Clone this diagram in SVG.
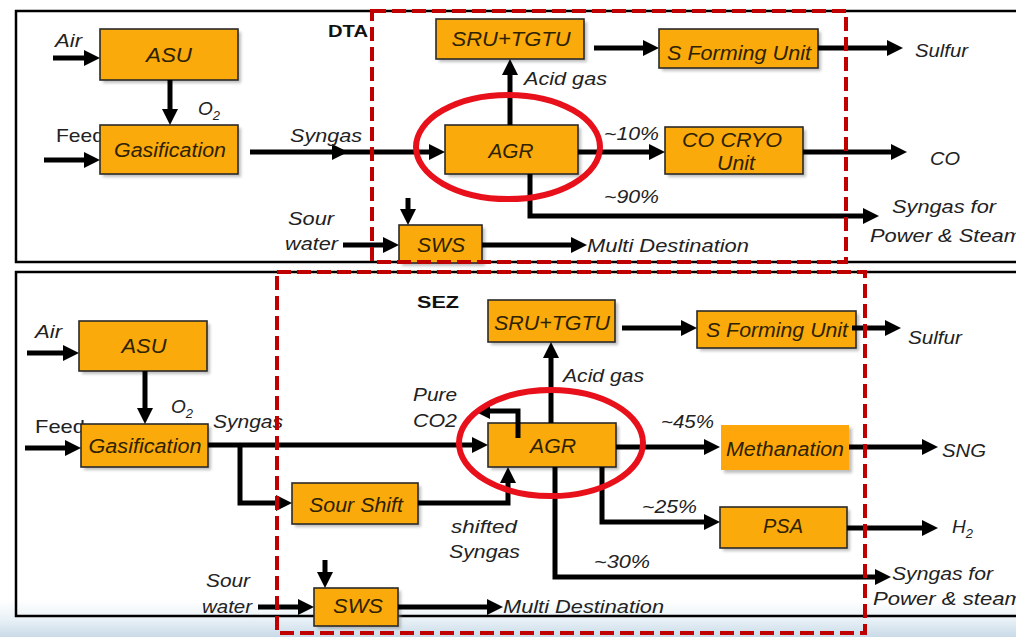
<svg xmlns="http://www.w3.org/2000/svg" width="1016" height="637" viewBox="0 0 1016 637">
<defs>
<marker id="ah" markerUnits="userSpaceOnUse" markerWidth="17" markerHeight="17" refX="6" refY="8" orient="auto"><path d="M0,0 L16,8 L0,16 z" fill="#000"/></marker>
<linearGradient id="bg" x1="0" y1="0" x2="0" y2="1"><stop offset="0" stop-color="#ffffff"/><stop offset="0.5" stop-color="#eaf2f7"/><stop offset="1" stop-color="#c9dbe8"/></linearGradient>
<filter id="sh" x="-10%" y="-10%" width="130%" height="140%"><feGaussianBlur stdDeviation="1.5"/></filter>
</defs>
<style>
.box{fill:#FBAA0C;stroke:#2a2a2a;stroke-width:1.6}
.shd{fill:#8a8a8a;opacity:0.55;filter:url(#sh)}
.bt{font-family:"Liberation Sans",Arial,sans-serif;font-style:italic;fill:#2e2200;font-size:20px}
.lb{font-family:"Liberation Sans",Arial,sans-serif;font-style:italic;fill:#222;font-size:19px}
.up{font-family:"Liberation Sans",Arial,sans-serif;fill:#222;font-size:19px}
.bd{font-family:"Liberation Sans",Arial,sans-serif;font-weight:bold;fill:#111;font-size:17px}
.c{fill:none;stroke:#000;stroke-width:5;marker-end:url(#ah)}
.pan{fill:none;stroke:#000;stroke-width:2.5}
.red{fill:none;stroke:#C00000;stroke-width:4;stroke-dasharray:14 6}
.ell{fill:none;stroke:#E8101A;stroke-width:6}
</style>
<rect x="0" y="0" width="1016" height="637" fill="#fff"/>
<rect x="0" y="600" width="1016" height="37" fill="url(#bg)"/>

<!-- panels -->
<rect class="pan" x="16" y="11" width="1010" height="251"/>
<rect class="pan" x="16" y="272" width="1010" height="344"/>

<!-- labels partly under boxes -->
<text class="up" x="56" y="142" textLength="48" lengthAdjust="spacingAndGlyphs">Feed</text>
<text class="up" x="35" y="433" textLength="50" lengthAdjust="spacingAndGlyphs">Feed</text>

<!-- ===== TOP PANEL nodes ===== -->
<g id="t-asu"><rect class="shd" x="103" y="32" width="138" height="51"/><rect class="box" x="100" y="29" width="138" height="51"/><text class="bt" x="169" y="62" text-anchor="middle" textLength="46" lengthAdjust="spacingAndGlyphs">ASU</text></g>
<g id="t-gas"><rect class="shd" x="103" y="128" width="138" height="49"/><rect class="box" x="100" y="125" width="138" height="49"/><text class="bt" x="170" y="157" text-anchor="middle" textLength="112" lengthAdjust="spacingAndGlyphs">Gasification</text></g>
<g id="t-sru"><rect class="shd" x="439" y="22" width="148" height="40"/><rect class="box" x="436" y="19" width="148" height="40"/><text class="bt" x="511" y="46" text-anchor="middle" textLength="119" lengthAdjust="spacingAndGlyphs">SRU+TGTU</text></g>
<g id="t-sform"><rect class="shd" x="662" y="32" width="159" height="39"/><rect class="box" x="659" y="29" width="159" height="39"/><text class="bt" x="739" y="60" text-anchor="middle" textLength="144" lengthAdjust="spacingAndGlyphs">S Forming Unit</text></g>
<g id="t-agr"><rect class="shd" x="448" y="128" width="133" height="49"/><rect class="box" x="445" y="125" width="133" height="49"/><text class="bt" x="511" y="158" text-anchor="middle" textLength="45" lengthAdjust="spacingAndGlyphs">AGR</text></g>
<g id="t-cryo"><rect class="shd" x="668" y="130" width="138" height="47"/><rect class="box" x="665" y="127" width="138" height="47"/><text class="bt" x="732" y="147" text-anchor="middle" textLength="100" lengthAdjust="spacingAndGlyphs">CO CRYO</text><text class="bt" x="736" y="170" text-anchor="middle" textLength="38" lengthAdjust="spacingAndGlyphs">Unit</text></g>
<g id="t-sws"><rect class="shd" x="402" y="228" width="83" height="38"/><rect class="box" x="399" y="225" width="83" height="38"/><text class="bt" x="441" y="252" text-anchor="middle" textLength="48" lengthAdjust="spacingAndGlyphs">SWS</text></g>

<!-- ===== BOTTOM PANEL nodes ===== -->
<g id="b-asu"><rect class="shd" x="82" y="324" width="128" height="50"/><rect class="box" x="79" y="321" width="128" height="50"/><text class="bt" x="144" y="353" text-anchor="middle" textLength="45" lengthAdjust="spacingAndGlyphs">ASU</text></g>
<g id="b-gas"><rect class="shd" x="84" y="427" width="127" height="43"/><rect class="box" x="81" y="424" width="127" height="43"/><text class="bt" x="145" y="453" text-anchor="middle" textLength="113" lengthAdjust="spacingAndGlyphs">Gasification</text></g>
<g id="b-shift"><rect class="shd" x="295" y="486" width="126" height="41"/><rect class="box" x="292" y="483" width="126" height="41"/><text class="bt" x="356" y="512" text-anchor="middle" textLength="94" lengthAdjust="spacingAndGlyphs">Sour Shift</text></g>
<g id="b-sru"><rect class="shd" x="491" y="303" width="127" height="42"/><rect class="box" x="488" y="300" width="127" height="42"/><text class="bt" x="552" y="330" text-anchor="middle" textLength="116" lengthAdjust="spacingAndGlyphs">SRU+TGTU</text></g>
<g id="b-sform"><rect class="shd" x="700" y="314" width="159" height="37"/><rect class="box" x="697" y="311" width="159" height="37"/><text class="bt" x="777" y="337" text-anchor="middle" textLength="142" lengthAdjust="spacingAndGlyphs">S Forming Unit</text></g>
<g id="b-agr"><rect class="shd" x="491" y="426" width="128" height="44"/><rect class="box" x="488" y="423" width="128" height="44"/><text class="bt" x="553" y="453" text-anchor="middle" textLength="46" lengthAdjust="spacingAndGlyphs">AGR</text></g>
<g id="b-meth"><rect class="shd" x="724" y="428" width="128" height="45"/><rect x="721" y="425" width="128" height="45" fill="#FFA70A"/><text class="bt" x="785" y="456" text-anchor="middle" textLength="118" lengthAdjust="spacingAndGlyphs">Methanation</text></g>
<g id="b-psa"><rect class="shd" x="723" y="510" width="127" height="41"/><rect class="box" x="720" y="507" width="127" height="41"/><text class="bt" x="783" y="533" text-anchor="middle" textLength="40" lengthAdjust="spacingAndGlyphs">PSA</text></g>
<g id="b-sws"><rect class="shd" x="317" y="591" width="84" height="38"/><rect class="box" x="314" y="588" width="84" height="38"/><text class="bt" x="358" y="613" text-anchor="middle" textLength="50" lengthAdjust="spacingAndGlyphs">SWS</text></g>

<!-- ===== connectors ===== -->
<g id="connectors">
<path class="c" d="M53,58 H90"/>
<path class="c" d="M170,80 V115"/>
<path class="c" d="M44,160 H90"/>
<path class="c" d="M250,152 H338"/>
<path class="c" d="M336,152 H435"/>
<path class="c" d="M510,125 V69"/>
<path class="c" d="M594,48 H649"/>
<path class="c" d="M818,48 H893"/>
<path class="c" d="M578,152 H655"/>
<path class="c" d="M803,152 H897"/>
<path class="c" d="M530,174 V216 H869"/>
<path class="c" d="M408,198 V215"/>
<path class="c" d="M343,245 H389"/>
<path class="c" d="M482,245 H577"/>
<path class="c" d="M27,353 H69"/>
<path class="c" d="M145,371 V414"/>
<path class="c" d="M25,448 H71"/>
<path class="c" d="M208,445 H478"/>
<path class="c" d="M240,445 V503 H282"/>
<path class="c" d="M418,503 H508 V477"/>
<path class="c" d="M518,438 V411 H484"/>
<path class="c" d="M551,423 V352"/>
<path class="c" d="M622,328 H687"/>
<path class="c" d="M852,328 H891"/>
<path class="c" d="M616,447 H710"/>
<path class="c" d="M849,447 H928"/>
<path class="c" d="M602,467 V522 H710"/>
<path class="c" d="M847,528 H928"/>
<path class="c" d="M555,467 V577 H881"/>
<path class="c" d="M325,560 V578"/>
<path class="c" d="M258,607 H304"/>
<path class="c" d="M398,607 H493"/>
</g>

<!-- ===== text labels ===== -->
<text class="lb" x="55" y="47" textLength="27" lengthAdjust="spacingAndGlyphs">Air</text>
<text class="lb" x="198" y="115" font-size="20">O<tspan font-size="13" dy="5">2</tspan></text>
<text class="lb" x="290" y="142" textLength="72" lengthAdjust="spacingAndGlyphs">Syngas</text>
<text class="bd" x="328" y="37" textLength="40" lengthAdjust="spacingAndGlyphs">DTA</text>
<text class="lb" x="288" y="225" textLength="46" lengthAdjust="spacingAndGlyphs">Sour</text>
<text class="lb" x="285" y="250" textLength="53" lengthAdjust="spacingAndGlyphs">water</text>
<text class="lb" x="915" y="57" textLength="53" lengthAdjust="spacingAndGlyphs">Sulfur</text>
<text class="lb" x="524" y="85" textLength="83" lengthAdjust="spacingAndGlyphs">Acid gas</text>
<text class="lb" x="604" y="140" textLength="55" lengthAdjust="spacingAndGlyphs">~10%</text>
<text class="lb" x="930" y="165" textLength="30" lengthAdjust="spacingAndGlyphs">CO</text>
<text class="lb" x="604" y="203" textLength="55" lengthAdjust="spacingAndGlyphs">~90%</text>
<text class="lb" x="892" y="213" textLength="104" lengthAdjust="spacingAndGlyphs">Syngas for</text>
<text class="lb" x="870" y="242" textLength="152" lengthAdjust="spacingAndGlyphs">Power &amp; Steam</text>
<text class="lb" x="587" y="252" textLength="162" lengthAdjust="spacingAndGlyphs">Multi Destination</text>

<text class="bd" x="417" y="308" textLength="42" lengthAdjust="spacingAndGlyphs">SEZ</text>
<text class="lb" x="35" y="338" textLength="27" lengthAdjust="spacingAndGlyphs">Air</text>
<text class="lb" x="171" y="413" font-size="20">O<tspan font-size="13" dy="5">2</tspan></text>
<text class="lb" x="213" y="428" textLength="70" lengthAdjust="spacingAndGlyphs">Syngas</text>
<text class="lb" x="413" y="401" textLength="44" lengthAdjust="spacingAndGlyphs">Pure</text>
<text class="lb" x="413" y="427" textLength="44" lengthAdjust="spacingAndGlyphs">CO2</text>
<text class="lb" x="908" y="344" textLength="54" lengthAdjust="spacingAndGlyphs">Sulfur</text>
<text class="lb" x="563" y="382" textLength="81" lengthAdjust="spacingAndGlyphs">Acid gas</text>
<text class="lb" x="661" y="428" textLength="53" lengthAdjust="spacingAndGlyphs">~45%</text>
<text class="lb" x="942" y="457" textLength="44" lengthAdjust="spacingAndGlyphs">SNG</text>
<text class="lb" x="642" y="513" textLength="55" lengthAdjust="spacingAndGlyphs">~25%</text>
<text class="lb" x="952" y="533">H<tspan font-size="13" dy="5">2</tspan></text>
<text class="lb" x="451" y="533" textLength="66" lengthAdjust="spacingAndGlyphs">shifted</text>
<text class="lb" x="449" y="558" textLength="71" lengthAdjust="spacingAndGlyphs">Syngas</text>
<text class="lb" x="594" y="568" textLength="56" lengthAdjust="spacingAndGlyphs">~30%</text>
<text class="lb" x="892" y="580" textLength="101" lengthAdjust="spacingAndGlyphs">Syngas for</text>
<text class="lb" x="873" y="605" textLength="150" lengthAdjust="spacingAndGlyphs">Power &amp; steam</text>
<text class="lb" x="206" y="587" textLength="44" lengthAdjust="spacingAndGlyphs">Sour</text>
<text class="lb" x="202" y="613" textLength="50" lengthAdjust="spacingAndGlyphs">water</text>
<text class="lb" x="503" y="613" textLength="161" lengthAdjust="spacingAndGlyphs">Multi Destination</text>

<!-- highlight overlays -->
<rect class="red" x="372" y="11" width="474" height="251"/>
<rect class="red" x="277" y="272" width="588" height="361"/>
<ellipse class="ell" cx="508" cy="147" rx="92" ry="52"/>
<ellipse class="ell" cx="551" cy="443" rx="92" ry="53"/>
</svg>
